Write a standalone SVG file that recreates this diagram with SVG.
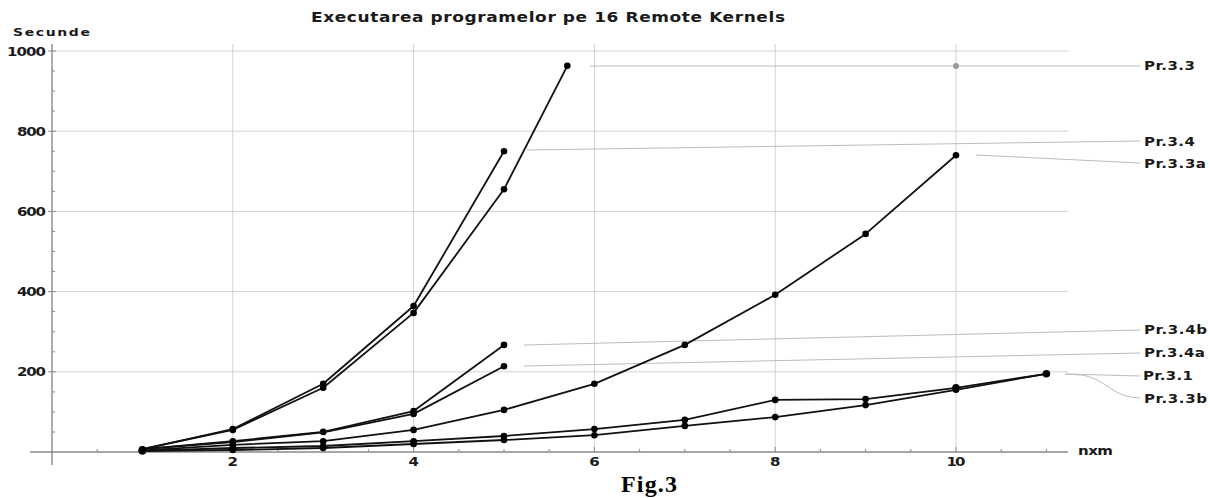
<svg xmlns="http://www.w3.org/2000/svg" width="1210" height="498" viewBox="0 0 1210 498">
  <style>
    .lbl { font-family: "DejaVu Sans", "Liberation Sans", Arial, sans-serif; font-weight: bold; fill: #1a1a1a; font-size: 15px; }
    .grid { stroke: #d2d2d2; stroke-width: 1; fill: none; }
    .axis { stroke: #8a8a8a; stroke-width: 1.4; fill: none; }
    .tick { stroke: #8a8a8a; stroke-width: 1; }
    .lead { stroke: #bdbdbd; stroke-width: 1; fill: none; }
    .curve { stroke: #111; stroke-width: 1.8; fill: none; stroke-linejoin: round; }
    .pt { fill: #000; }
  </style>
  <rect width="1210" height="498" fill="#fff"/>

  <!-- title and axis captions (glyphs squeezed vertically to a wide, flat look) -->
  <text class="lbl" transform="translate(311,22) scale(1,0.8)" style="font-size:17px" textLength="474" lengthAdjust="spacing">Executarea programelor pe 16 Remote Kernels</text>
  <text class="lbl" transform="translate(13,36) scale(1,0.8)" style="font-size:14px" textLength="77" lengthAdjust="spacing">Secunde</text>
  <text class="lbl" transform="translate(1078,455) scale(1,0.8)" textLength="35" lengthAdjust="spacing">nxm</text>

  <!-- grid -->
  <g id="grid">
    <path class="grid" d="M232.8,44V452M413.6,44V452M594.4,44V452M775.2,44V452M956,44V452"/>
    <path class="grid" d="M52,51H1068M52,131.2H1068M52,211.4H1068M52,291.6H1068M52,371.8H1068"/>
  </g>

  <!-- axes with ticks -->
  <g id="axes">
    <path class="axis" d="M52,44V465M30,452H1068"/>
    <path class="tick" d="M48,51H56M48,131.2H56M48,211.4H56M48,291.6H56M48,371.8H56
      M52,71H55M52,91.1H55M52,111.1H55M52,151.2H55M52,171.3H55M52,191.3H55M52,231.5H55M52,251.5H55M52,271.6H55
      M52,311.6H55M52,331.7H55M52,351.8H55M52,391.9H55M52,411.9H55M52,432H55"/>
    <path class="tick" d="M97.2,449V452M142.4,449V452M187.6,449V452M232.8,447V452M278,449V452M323.2,449V452M368.4,449V452
      M413.6,447V452M458.8,449V452M504,449V452M549.2,449V452M594.4,447V452M639.6,449V452M684.8,449V452M730,449V452
      M775.2,447V452M820.4,449V452M865.6,449V452M910.8,449V452M956,447V452M1001.2,449V452M1046.4,449V452"/>
  </g>

  <!-- tick labels -->
  <g id="y-labels" class="lbl" text-anchor="end">
    <text transform="translate(46,55.5) scale(1,0.8)" textLength="39" lengthAdjust="spacing">1000</text>
    <text transform="translate(46,135.5) scale(1,0.8)" textLength="29" lengthAdjust="spacing">800</text>
    <text transform="translate(46,215.5) scale(1,0.8)" textLength="29" lengthAdjust="spacing">600</text>
    <text transform="translate(46,296) scale(1,0.8)" textLength="29" lengthAdjust="spacing">400</text>
    <text transform="translate(46,376) scale(1,0.8)" textLength="29" lengthAdjust="spacing">200</text>
  </g>
  <g id="x-labels" class="lbl" text-anchor="middle">
    <text transform="translate(232.8,466) scale(1,0.8)">2</text>
    <text transform="translate(413.6,466) scale(1,0.8)">4</text>
    <text transform="translate(594.4,466) scale(1,0.8)">6</text>
    <text transform="translate(775.2,466) scale(1,0.8)">8</text>
    <text transform="translate(956,466) scale(1,0.8)" textLength="19" lengthAdjust="spacing">10</text>
  </g>

  <!-- leader lines to the series names -->
  <g id="connectors">
    <path class="lead" d="M590,66H1140"/>
    <path class="lead" d="M527,150L1140,141"/>
    <path class="lead" d="M976,155L1140,163"/>
    <path class="lead" d="M524,345L1140,330"/>
    <path class="lead" d="M524,366L1140,353"/>
    <path class="lead" d="M1065,374L1140,376"/>
    <path class="lead" d="M1065,374L1082,375Q1095,377 1110,388Q1124,398 1140,398"/>
  </g>
  <circle cx="956" cy="66" r="3" fill="#9a9a9a"/>

  <!-- data series -->
  <g id="pr-3-4">
    <polyline class="curve" points="142.4,449.2 232.8,429.1 323.2,383.8 413.6,306 504,151.3"/>
    <g class="pt"><circle cx="142.4" cy="449.2" r="3.3"/><circle cx="232.8" cy="429.1" r="3.3"/><circle cx="323.2" cy="383.8" r="3.3"/><circle cx="413.6" cy="306" r="3.3"/><circle cx="504" cy="151.3" r="3.3"/></g>
    <text class="lbl" transform="translate(1144,145.5) scale(1,0.8)" textLength="51" lengthAdjust="spacing">Pr.3.4</text>
  </g>
  <g id="pr-3-3">
    <polyline class="curve" points="142.4,449.2 232.8,429.9 323.2,387.8 413.6,312.9 504,189.3 567.3,65.8"/>
    <g class="pt"><circle cx="232.8" cy="429.9" r="3.3"/><circle cx="323.2" cy="387.8" r="3.3"/><circle cx="413.6" cy="312.9" r="3.3"/><circle cx="504" cy="189.3" r="3.3"/><circle cx="567.3" cy="65.8" r="3.3"/></g>
    <text class="lbl" transform="translate(1144,70) scale(1,0.8)" textLength="51" lengthAdjust="spacing">Pr.3.3</text>
  </g>
  <g id="pr-3-4b">
    <polyline class="curve" points="142.4,449.2 232.8,441.2 323.2,431.9 413.6,411.1 504,344.9"/>
    <g class="pt"><circle cx="232.8" cy="441.2" r="3.3"/><circle cx="323.2" cy="431.9" r="3.3"/><circle cx="413.6" cy="411.1" r="3.3"/><circle cx="504" cy="344.9" r="3.3"/></g>
    <text class="lbl" transform="translate(1144,334) scale(1,0.8)" textLength="63" lengthAdjust="spacing">Pr.3.4b</text>
  </g>
  <g id="pr-3-4a">
    <polyline class="curve" points="142.4,449.2 232.8,442 323.2,432.4 413.6,413.9 504,366.2"/>
    <g class="pt"><circle cx="413.6" cy="413.9" r="3.3"/><circle cx="504" cy="366.2" r="3.3"/></g>
    <text class="lbl" transform="translate(1144,357) scale(1,0.8)" textLength="61" lengthAdjust="spacing">Pr.3.4a</text>
  </g>
  <g id="pr-3-3a">
    <polyline class="curve" points="142.4,450.4 232.8,444.8 323.2,441.2 413.6,429.9 504,409.9 594.4,383.8 684.8,344.9 775.2,294.8 865.6,233.9 956,155.3"/>
    <g class="pt"><circle cx="232.8" cy="444.8" r="3.3"/><circle cx="323.2" cy="441.2" r="3.3"/><circle cx="413.6" cy="429.9" r="3.3"/><circle cx="504" cy="409.9" r="3.3"/><circle cx="594.4" cy="383.8" r="3.3"/><circle cx="684.8" cy="344.9" r="3.3"/><circle cx="775.2" cy="294.8" r="3.3"/><circle cx="865.6" cy="233.9" r="3.3"/><circle cx="956" cy="155.3" r="3.3"/></g>
    <text class="lbl" transform="translate(1144,168) scale(1,0.8)" textLength="62" lengthAdjust="spacing">Pr.3.3a</text>
  </g>
  <g id="pr-3-1">
    <polyline class="curve" points="142.4,450.8 232.8,448 323.2,446 413.6,441.2 504,436 594.4,429.1 684.8,419.9 775.2,399.9 865.6,399.1 956,387.8 1046.4,373.8"/>
    <g class="pt"><circle cx="232.8" cy="448" r="3.3"/><circle cx="323.2" cy="446" r="3.3"/><circle cx="413.6" cy="441.2" r="3.3"/><circle cx="504" cy="436" r="3.3"/><circle cx="594.4" cy="429.1" r="3.3"/><circle cx="684.8" cy="419.9" r="3.3"/><circle cx="775.2" cy="399.9" r="3.3"/><circle cx="865.6" cy="399.1" r="3.3"/><circle cx="956" cy="387.8" r="3.8"/><circle cx="1046.4" cy="373.8" r="3.8"/></g>
    <text class="lbl" transform="translate(1143,380) scale(1,0.8)" textLength="50" lengthAdjust="spacing">Pr.3.1</text>
  </g>
  <g id="pr-3-3b">
    <polyline class="curve" points="142.4,451.2 232.8,450 323.2,448 413.6,444 504,440 594.4,435.2 684.8,425.9 775.2,417.1 865.6,405.1 956,389.8 1046.4,373.8"/>
    <g class="pt"><circle cx="142.4" cy="450.5" r="4.2"/><circle cx="232.8" cy="450" r="3.3"/><circle cx="323.2" cy="448" r="3.3"/><circle cx="413.6" cy="444" r="3.3"/><circle cx="504" cy="440" r="3.3"/><circle cx="594.4" cy="435.2" r="3.3"/><circle cx="684.8" cy="425.9" r="3.3"/><circle cx="775.2" cy="417.1" r="3.3"/><circle cx="865.6" cy="405.1" r="3.3"/><circle cx="956" cy="389.8" r="3.3"/></g>
    <text class="lbl" transform="translate(1144,403) scale(1,0.8)" textLength="63" lengthAdjust="spacing">Pr.3.3b</text>
  </g>

  <!-- figure caption -->
  <text x="621" y="492" font-family="'Liberation Serif', 'Times New Roman', serif" font-weight="bold" font-size="24" fill="#000" textLength="56" lengthAdjust="spacing">Fig.3</text>
</svg>
